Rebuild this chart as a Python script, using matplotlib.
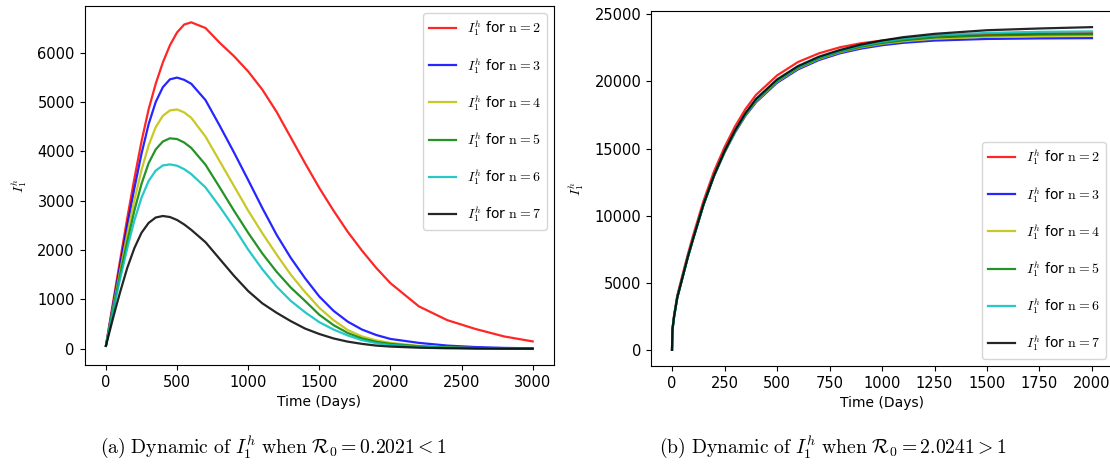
import matplotlib
matplotlib.use("Agg")
import matplotlib.pyplot as plt

plt.rcParams['mathtext.fontset'] = 'cm'
plt.rcParams['font.size'] = 10

# ---- panel (a): R0 < 1 ----
t_a = [0, 25, 50, 75, 100, 150, 200, 250, 300, 350, 400, 450, 500, 550, 600, 700,
       800, 900, 1000, 1100, 1200, 1300, 1400, 1500, 1600, 1700, 1800, 1900, 2000,
       2200, 2400, 2600, 2800, 3000]
a_n2 = [60, 500, 940, 1370, 1800, 2650, 3450, 4200, 4850, 5370, 5800, 6150, 6410, 6570,
        6615, 6500, 6200, 5930, 5620, 5250, 4800, 4280, 3760, 3260, 2800, 2370, 1990,
        1640, 1330, 860, 580, 400, 250, 150]
a_n3 = [60, 470, 880, 1290, 1700, 2500, 3250, 3950, 4550, 5000, 5300, 5460, 5495, 5450,
        5370, 5040, 4520, 3980, 3420, 2850, 2310, 1840, 1430, 1060, 770, 550, 390,
        280, 200, 120, 65, 35, 18, 10]
a_n4 = [60, 445, 830, 1210, 1590, 2330, 3010, 3620, 4120, 4490, 4720, 4830, 4850, 4790,
        4680, 4300, 3800, 3300, 2800, 2340, 1910, 1500, 1150, 830, 580, 380, 250,
        170, 120, 60, 30, 15, 8, 4]
a_n5 = [60, 420, 780, 1140, 1490, 2170, 2800, 3340, 3760, 4040, 4200, 4265, 4250, 4180,
        4070, 3730, 3270, 2800, 2350, 1930, 1560, 1240, 970, 690, 480, 320, 210,
        140, 100, 50, 25, 12, 6, 3]
a_n6 = [60, 405, 750, 1090, 1420, 2040, 2600, 3060, 3400, 3610, 3715, 3736, 3710, 3640,
        3540, 3270, 2880, 2460, 2010, 1610, 1260, 970, 740, 540, 390, 270, 175,
        115, 80, 42, 21, 10, 5, 3]
a_n7 = [60, 340, 620, 890, 1150, 1640, 2040, 2350, 2550, 2660, 2691, 2670, 2610, 2520,
        2410, 2160, 1820, 1480, 1170, 920, 730, 560, 410, 300, 210, 145, 100,
        65, 45, 22, 11, 6, 3, 2]

# ---- panel (b): R0 > 1 ----
t_b = [0, 2, 10, 25, 50, 75, 100, 150, 200, 250, 300, 350, 400, 500, 600, 700, 800,
       900, 1000, 1100, 1250, 1500, 1750, 2000]
b_n2 = [0, 1550, 2600, 4050, 5600, 7100, 8500, 11100, 13300, 15100, 16650, 17950, 19000,
        20450, 21450, 22100, 22550, 22850, 23050, 23200, 23380, 23500, 23570, 23600]
b_n3 = [0, 1500, 2500, 3900, 5400, 6900, 8250, 10800, 12950, 14700, 16200, 17450, 18450,
        19900, 20900, 21600, 22100, 22450, 22700, 22880, 23050, 23170, 23210, 23230]
b_n4 = [0, 1500, 2500, 3900, 5400, 6900, 8250, 10820, 12970, 14730, 16250, 17500, 18520,
        19980, 20980, 21680, 22180, 22540, 22800, 22990, 23180, 23330, 23400, 23420]
b_n5 = [0, 1500, 2500, 3900, 5400, 6900, 8250, 10830, 12980, 14760, 16280, 17550, 18580,
        20040, 21040, 21740, 22240, 22600, 22870, 23070, 23280, 23430, 23500, 23520]
b_n6 = [0, 1500, 2500, 3900, 5400, 6900, 8250, 10840, 12990, 14780, 16310, 17600, 18640,
        20090, 21090, 21790, 22290, 22670, 22950, 23180, 23420, 23620, 23700, 23730]
b_n7 = [0, 1500, 2500, 3900, 5400, 6900, 8250, 10850, 13000, 14800, 16350, 17650, 18700,
        20150, 21150, 21850, 22350, 22750, 23050, 23300, 23550, 23820, 23950, 24050]

n_values = [2, 3, 4, 5, 6, 7]
colors = ['r', 'b', 'y', 'g', 'c', 'k']
series_a = [a_n2, a_n3, a_n4, a_n5, a_n6, a_n7]
series_b = [b_n2, b_n3, b_n4, b_n5, b_n6, b_n7]

fig = plt.figure(figsize=(11.1, 4.66), dpi=100)
ax1 = fig.add_axes([0.0762, 0.2167, 0.4229, 0.7704])
ax2 = fig.add_axes([0.5865, 0.2146, 0.4162, 0.7618])

for ax, t, series in [(ax1, t_a, series_a), (ax2, t_b, series_b)]:
    for n, c, y in zip(n_values, colors, series):
        ax.plot(t, y, color=c, lw=1.6, alpha=0.85, label=r'$I_1^h$ for $\mathrm{n}=%d$' % n)
    ax.set_xlabel('Time (Days)', labelpad=4)
    ax.set_ylabel(r'$I_1^h$', labelpad=6)
    ax.tick_params(labelsize=10.5)

ax1.set_xticks([0, 500, 1000, 1500, 2000, 2500, 3000])
ax2.set_xticks([0, 250, 500, 750, 1000, 1250, 1500, 1750, 2000])

ax1.legend(loc='upper right', labelspacing=1.25, fontsize=10)
ax2.legend(loc='lower right', labelspacing=1.25, fontsize=10)

fig.text(0.246, 0.04, r'$\mathrm{(a)\ Dynamic\ of\ }I_1^h\mathrm{\ when\ }\mathcal{R}_0=0.2021<1$',
         ha='center', va='center', fontsize=14.2)
fig.text(0.750, 0.04, r'$\mathrm{(b)\ Dynamic\ of\ }I_1^h\mathrm{\ when\ }\mathcal{R}_0=2.0241>1$',
         ha='center', va='center', fontsize=14.2)

fig.savefig('out.png', dpi=100)
